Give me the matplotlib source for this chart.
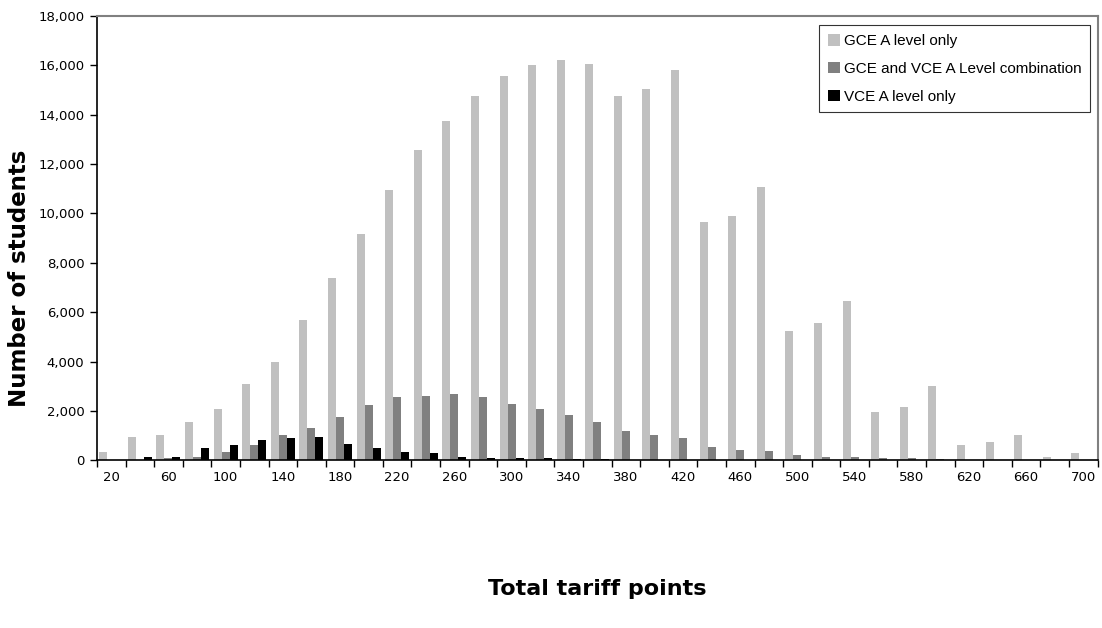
import numpy as np
import matplotlib
matplotlib.use("Agg")
import matplotlib.pyplot as plt
from matplotlib.ticker import FuncFormatter

points = list(range(20, 701, 20))

gce_only = [350, 950, 1020, 1550, 2090, 3100, 4000, 5700, 7400, 9150,
            10950, 12550, 13750, 14750, 15550, 16000, 16200, 16050, 14750, 15050,
            15800, 9650, 9900, 11050, 5250, 5550, 6450, 1950, 2150, 3000,
            620, 750, 1020, 150, 280]
gce_vce = [0, 0, 80, 150, 345, 610, 1020, 1290, 1740, 2220,
           2550, 2600, 2680, 2550, 2280, 2090, 1820, 1550, 1200, 1020,
           900, 550, 430, 370, 230, 150, 130, 80, 80, 70,
           0, 0, 0, 0, 0]
vce_only = [0, 150, 150, 490, 610, 820, 890, 944, 680, 480,
            345, 280, 145, 80, 80, 80, 60, 60, 0, 0,
            0, 0, 0, 0, 0, 0, 0, 0, 0, 0,
            0, 0, 0, 0, 0]

series = [("GCE A level only", gce_only, "#c0c0c0"),
          ("GCE and VCE A Level combination", gce_vce, "#808080"),
          ("VCE A level only", vce_only, "#000000")]


def main():
    fig = plt.figure(figsize=(11.02, 6.28), dpi=100)
    ax = fig.add_axes([0.088, 0.267, 0.908, 0.708])

    x = np.arange(len(points))
    w = 0.28
    for k, (name, vals, col) in enumerate(series):
        ax.bar(x + (k - 1) * w, vals, width=w, color=col, label=name, linewidth=0)

    ax.set_xlim(-0.5, len(points) - 0.5)
    ax.set_ylim(0, 18000)
    ax.set_yticks(range(0, 18001, 2000))
    ax.yaxis.set_major_formatter(FuncFormatter(lambda v, p: "{:,.0f}".format(v)))

    # labels on every other category, tick marks between categories
    ax.set_xticks(x[::2])
    ax.set_xticklabels([str(p) for p in points[::2]])
    ax.set_xticks(np.arange(-0.5, len(points), 1), minor=True)
    ax.tick_params(axis="x", which="major", length=0, pad=8, labelsize=9.5)
    ax.tick_params(axis="x", which="minor", length=5, width=1, direction="out")
    ax.tick_params(axis="y", length=5, width=1, direction="out", labelsize=9.5, pad=4)

    for side in ("top", "right"):
        ax.spines[side].set_color("#808080")
        ax.spines[side].set_linewidth(1.5)
    for side in ("left", "bottom"):
        ax.spines[side].set_color("#000000")
        ax.spines[side].set_linewidth(1.2)

    ax.set_ylabel("Number of students", fontsize=16.5, fontweight="bold")
    ax.set_xlabel("Total tariff points", fontsize=16, fontweight="bold")
    ax.yaxis.set_label_coords(-0.066, 0.41)
    ax.xaxis.set_label_coords(0.5, -0.268)

    leg = ax.legend(loc="upper right", bbox_to_anchor=(0.992, 0.978), borderaxespad=0,
                    frameon=True, fancybox=False, edgecolor="black",
                    prop={"family": "Liberation Sans", "size": 11},
                    handlelength=0.8, handleheight=0.8, handletextpad=0.25,
                    labelspacing=0.9, borderpad=0.55)
    leg.get_frame().set_linewidth(0.8)

    fig.savefig("out.png", dpi=100)


if __name__ == "__main__":
    main()
